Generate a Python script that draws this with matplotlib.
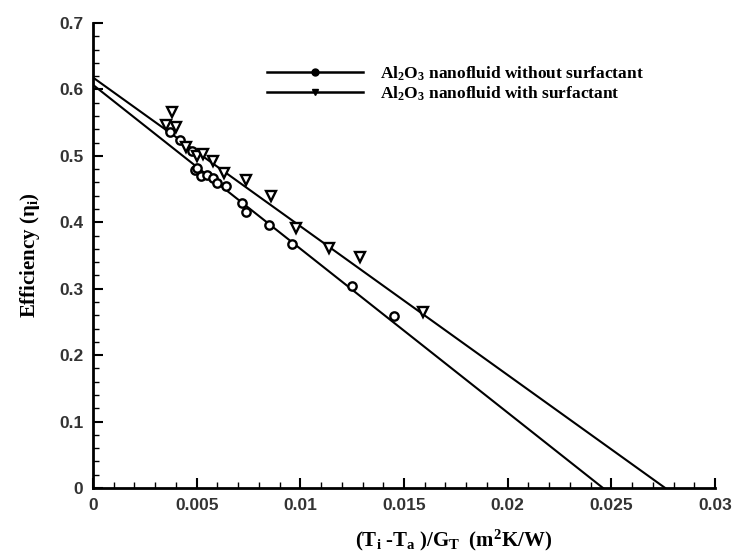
import numpy as np
import matplotlib
matplotlib.use("Agg")
import matplotlib.pyplot as plt
from matplotlib.lines import Line2D
from matplotlib.ticker import MultipleLocator

# ── data ─────────────────────────────────────────────────────────────────────
x_without = [0.0037, 0.0042, 0.0048, 0.0049, 0.0050, 0.0052, 0.0055, 0.0058,
             0.0060, 0.0064, 0.0072, 0.0074, 0.0085, 0.0096, 0.0125, 0.0145]
y_without = [0.536, 0.524, 0.508, 0.478, 0.482, 0.470, 0.471, 0.466,
             0.459, 0.454, 0.429, 0.416, 0.396, 0.368, 0.304, 0.259]

x_with = [0.0035, 0.0038, 0.0040, 0.0045, 0.0050, 0.0053, 0.0058, 0.0063,
          0.0074, 0.0086, 0.0098, 0.0114, 0.0129, 0.0159]
y_with = [0.546, 0.566, 0.544, 0.514, 0.500, 0.503, 0.492, 0.474,
          0.464, 0.439, 0.392, 0.361, 0.348, 0.265]

# fitted lines: end points (x, efficiency)
fit_without_x = [0.0, 0.0246]
fit_without_y = [0.607, 0.0]
fit_with_x = [0.0, 0.0276]
fit_with_y = [0.618, 0.0]

labels = [r"$\mathbf{Al_2O_3}$ nanofluid without surfactant",
          r"$\mathbf{Al_2O_3}$ nanofluid with surfactant"]

# ── figure ───────────────────────────────────────────────────────────────────
plt.rcParams["mathtext.fontset"] = "custom"
plt.rcParams["mathtext.rm"] = "Liberation Serif"
plt.rcParams["mathtext.bf"] = "Liberation Serif:bold"
plt.rcParams["mathtext.it"] = "Liberation Serif:italic"

fig = plt.figure(figsize=(7.42, 5.52), dpi=100)
ax = fig.add_axes([0.1253, 0.1159, 0.8383, 0.8424])

ax.plot(fit_without_x, fit_without_y, color="black", lw=1.5)
ax.plot(fit_with_x, fit_with_y, color="black", lw=1.5)
ax.plot(x_without, y_without, "o", ms=6, mfc="white", mec="black", mew=1.7)
ax.plot(x_with, y_with, "v", ms=6.5, mfc="white", mec="black", mew=1.7)

ax.set_xlim(0, 0.03)
ax.set_ylim(0, 0.7)
ax.xaxis.set_minor_locator(MultipleLocator(0.001))
ax.yaxis.set_minor_locator(MultipleLocator(0.02))
ax.set_xticks(np.arange(0, 0.0301, 0.005))
ax.set_xticklabels(["0", "0.005", "0.01", "0.015", "0.02", "0.025", "0.03"])
ax.set_yticks(np.arange(0, 0.71, 0.1))
ax.set_yticklabels(["0", "0.1", "0.2", "0.3", "0.4", "0.5", "0.6", "0.7"])
ax.tick_params(which="major", direction="in", length=7, width=1.5,
               labelsize=12.5, pad=7)
ax.tick_params(which="minor", direction="in", length=4, width=1)
for lab in ax.get_xticklabels() + ax.get_yticklabels():
    lab.set_family("Liberation Sans")
    lab.set_fontweight("bold")
    lab.set_color("#333333")

for side in ["top", "right"]:
    ax.spines[side].set_visible(False)
for side in ["left", "bottom"]:
    ax.spines[side].set_linewidth(2)

ax.set_xlabel(r"$\mathbf{(T_i\ \text{-}T_a\ )/G_T\ \ (m^2K/W)}$", fontsize=15)
ax.xaxis.set_label_coords(0.579, -0.085)
ax.set_ylabel(r"$\mathbf{Efficiency\ (\eta_i)}$", fontsize=15, labelpad=12)

handles = [
    Line2D([], [], color="black", lw=1.8, marker="o", ms=5, mfc="black"),
    Line2D([], [], color="black", lw=1.8, marker="v", ms=5, mfc="black"),
]
leg = ax.legend(handles, labels, loc="upper left", bbox_to_anchor=(0.255, 0.945),
                frameon=False, handlelength=5.5, handletextpad=1.0,
                labelspacing=0.1, prop={"family": "Liberation Serif",
                                        "weight": "bold", "size": 12.5})

fig.savefig("out.png", dpi=100)
